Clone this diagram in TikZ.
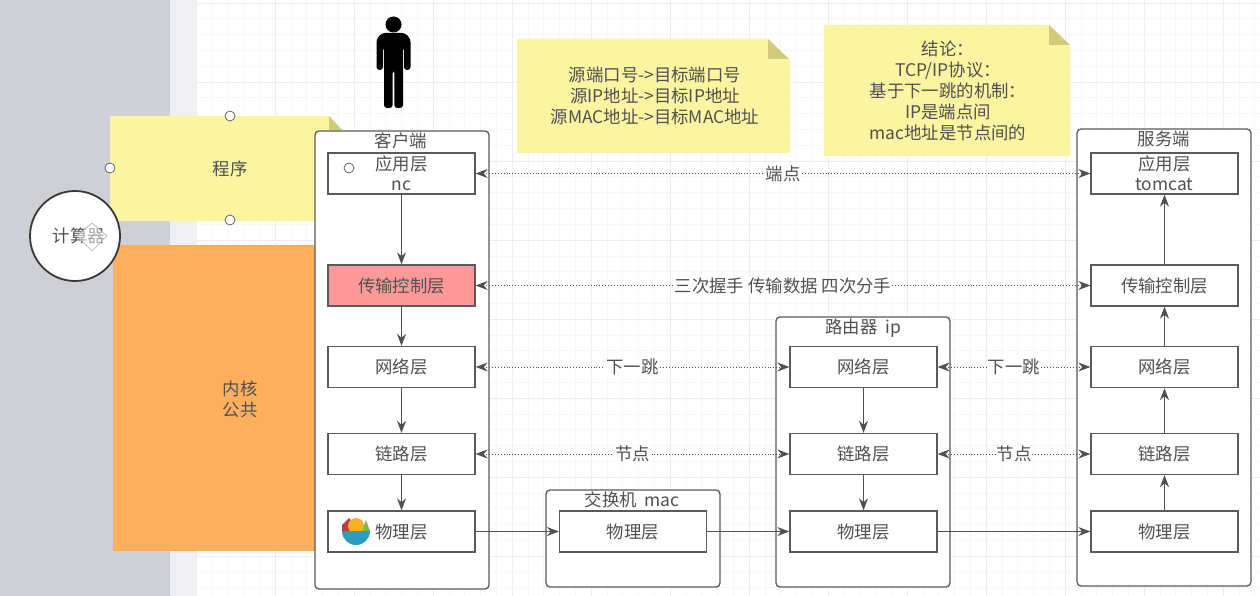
\documentclass[tikz,border=0pt]{standalone}
\usepackage{fontspec}
\setmainfont{Noto Sans CJK SC}
\usetikzlibrary{arrows.meta}
\definecolor{ink}{HTML}{505050}
\definecolor{edge}{HTML}{5A5A5A}
\definecolor{notey}{HTML}{FBF4A0}
\definecolor{foldy}{HTML}{CFCB78}
\definecolor{panel}{HTML}{CFD0D5}
\definecolor{sidepale}{HTML}{F0F0F2}
\definecolor{kernelfill}{HTML}{FEAF5E}
\definecolor{layerred}{HTML}{FF9999}
\definecolor{bowlblue}{HTML}{2E9BC0}
\definecolor{bowlred}{HTML}{B5403F}
\definecolor{bowlgreen}{HTML}{7DB551}
\definecolor{bowlorange}{HTML}{F6B021}
\tikzset{
  x=1pt,y=-1pt,
  every node/.style={font=\fontsize{17.4}{21}\selectfont,text=ink,align=center,inner sep=0pt},
  container/.style={draw=edge,line width=1.3pt,rounded corners=4pt,fill=white},
  layerbox/.style={draw=edge,line width=1.3pt,fill=white,minimum width=147pt,minimum height=41pt,anchor=center},
  flow/.style={draw=ink,line width=1.2pt,-{Stealth[length=12pt,width=9pt]}},
  peer/.style={draw=ink,line width=.9pt,dotted,{Stealth[length=12pt,width=9pt,fill=ink]}-{Stealth[length=12pt,width=9pt]}},
  peerlabel/.style={fill=white,inner xsep=1pt,inner ysep=0pt},
  handle/.style={circle,draw=edge,line width=.7pt,fill=white,minimum size=10pt},
  note/.style={fill=notey}
}
\begin{document}
\begin{tikzpicture}
\useasboundingbox (0,0) rectangle (1260,596);
\fill[white] (0,0) rectangle (1260,596);
% canvas grid
\foreach \g in {0,...,67} {\draw[black!3,line width=.6pt] ({196+\g*15.8},0) -- ({196+\g*15.8},596);}
\foreach \g in {0,...,38} {\draw[black!3,line width=.6pt] (196,{3+\g*15.8}) -- (1260,{3+\g*15.8});}
\foreach \g in {0,...,13} {\draw[black!7,line width=.9pt] ({196+\g*79},0) -- ({196+\g*79},596);}
\foreach \g in {0,...,7} {\draw[black!7,line width=.9pt] (196,{3+\g*79}) -- (1260,{3+\g*79});}
% side panels
\fill[sidepale] (170,0) rectangle (197,596);
\fill[panel] (0,0) rectangle (170,596);
% large left blocks
\fill[notey] (110,116) -- (329,116) -- (342,130) -- (342,221) -- (110,221) -- cycle;
\fill[foldy] (329,116) -- (342,130) -- (329,130) -- cycle;
\fill[kernelfill] (113,245) rectangle (315,551);
\node (prog) at (230,169) {程序};
\node (kernel) at (240,399) {内核\\公共};
% person
\fill[black] (393.5,24.5) circle (8);
\fill[black,rounded corners=3pt] (382,33) -- (405,33) -- (410.5,39) -- (410.5,70) -- (404,70) -- (404,47) -- (403,47) -- (403,108) -- (394.3,108) -- (394.3,70) -- (392.7,70) -- (392.7,108) -- (384,108) -- (384,47) -- (383,47) -- (383,70) -- (376.5,70) -- (376.5,39) -- cycle;
% notes
\fill[note] (517,39) -- (768,39) -- (790,61) -- (790,153) -- (517,153) -- cycle;
\fill[foldy] (768,39) -- (768,59) -- (789,59) -- cycle;
\node (notea) at (655,96) {源端口号->目标端口号\\源IP地址->目标IP地址\\源MAC地址->目标MAC地址};
\fill[note] (824,25) -- (1049,25) -- (1070,45) -- (1070,156) -- (824,156) -- cycle;
\fill[foldy] (1049,25) -- (1049,45) -- (1070,45) -- cycle;
\node (noteb) at (948,91) {结论：\\TCP/IP协议：\\基于下一跳的机制：\\IP是端点间\\mac地址是节点间的};
% containers
\draw[container] (315,131) rectangle (489,589);
\draw[container] (546,490) rectangle (720,587);
\draw[container] (776,317) rectangle (950,587);
\draw[container] (1077,129) rectangle (1251,586);
\node (clabel) at (401,141) {客户端};
\node (slabel) at (632,500) {交换机\ \ mac};
\node (rlabel) at (863,328) {路由器\ \ ip};
\node (elabel) at (1164,139) {服务端};
% client layers
\node[layerbox] (c1) at (401.5,173.5) {应用层\\[-1pt]nc};
\node[layerbox,fill=layerred] (c2) at (401.5,285.5) {传输控制层};
\node[layerbox] (c3) at (401.5,367) {网络层};
\node[layerbox] (c4) at (401.5,454) {链路层};
\node[layerbox] (c5) at (401.5,531.5) {物理层};
% switch
\node[layerbox] (s1) at (633,531.5) {物理层};
% router
\node[layerbox] (r3) at (863.5,367) {网络层};
\node[layerbox] (r4) at (863.5,454) {链路层};
\node[layerbox] (r5) at (863.5,531.5) {物理层};
% server
\node[layerbox] (e1) at (1164.5,173.5) {应用层\\[-1pt]tomcat};
\node[layerbox] (e2) at (1164.5,285.5) {传输控制层};
\node[layerbox] (e3) at (1164.5,367) {网络层};
\node[layerbox] (e4) at (1164.5,454) {链路层};
\node[layerbox] (e5) at (1164.5,531.5) {物理层};
% vertical flows
\draw[flow] (c1) -- (c2);
\draw[flow] (c2) -- (c3);
\draw[flow] (c3) -- (c4);
\draw[flow] (c4) -- (c5);
\draw[flow] (r3) -- (r4);
\draw[flow] (r4) -- (r5);
\draw[flow] (e5) -- (e4);
\draw[flow] (e4) -- (e3);
\draw[flow] (e3) -- (e2);
\draw[flow] (e2) -- (e1);
% horizontal physical
\draw[flow] (c5) -- (s1);
\draw[flow] (s1) -- (r5);
\draw[flow] (r5) -- (e5);
% peer links
\draw[peer] (c1) -- node[peerlabel] {端点} (e1);
\draw[peer] (c2) -- node[peerlabel] {三次握手\ 传输数据\ 四次分手} (e2);
\draw[peer] (c3) -- node[peerlabel] {下一跳} (r3);
\draw[peer] (r3) -- node[peerlabel] {下一跳} (e3);
\draw[peer] (c4) -- node[peerlabel] {节点} (r4);
\draw[peer] (r4) -- node[peerlabel] {节点} (e4);
% computer circle
\node[circle,draw=ink!70!black,line width=1.8pt,fill=white,minimum size=90pt] (comp) at (75,236) {};
\node (complabel) at (79,236) {计算器};
\draw[fill=white,fill opacity=.5,draw=black!30,line width=.7pt] (92,223) -- (107,236) -- (92,251) -- (77,236) -- cycle;
% selection handles
\node[handle] (h1) at (230,116) {};
\node[handle] (h2) at (110,168) {};
\node[handle] (h3) at (230,220) {};
\node[handle] (h4) at (349,168) {};
% bowl icon
\fill[bowlgreen] (362,531) -- (366,520) -- (370,531) -- cycle;
\fill[bowlred] (342,531) -- (342,525) -- (349,518) -- (360,531) -- cycle;
\fill[bowlorange] (356,526) circle (8);
\fill[bowlblue] (342,531) arc[start angle=180,end angle=0,radius=14] -- cycle;
\end{tikzpicture}
\end{document}
